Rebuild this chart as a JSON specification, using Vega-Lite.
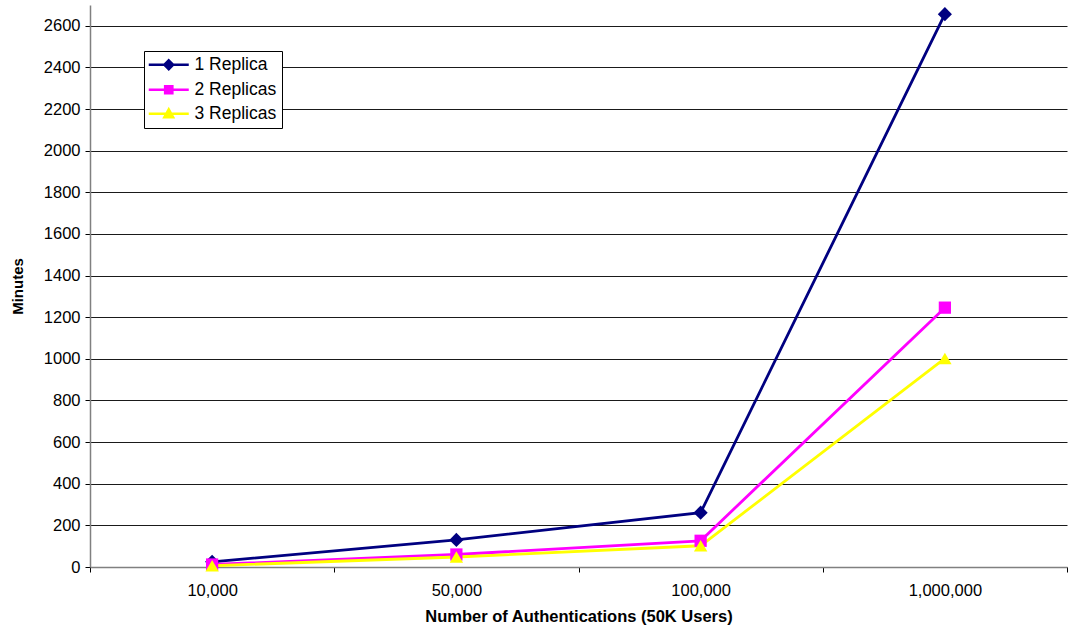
{
  "$schema": "https://vega.github.io/schema/vega-lite/v6.json",
  "width": 977,
  "height": 562,
  "autosize": {"type": "none"},
  "padding": {"left": 90, "top": 5, "right": 13, "bottom": 62},
  "background": "white",
  "config": {
    "font": "Liberation Sans",
    "view": {"stroke": null},
    "axis": {"labelFont": "Liberation Sans", "titleFont": "Liberation Sans", "labelColor": "black", "titleColor": "black"}
  },
  "data": {
    "values": [
      {"auths": "10,000", "series": "1 Replica", "minutes": 25},
      {"auths": "50,000", "series": "1 Replica", "minutes": 130},
      {"auths": "100,000", "series": "1 Replica", "minutes": 261},
      {"auths": "1,000,000", "series": "1 Replica", "minutes": 2656},
      {"auths": "10,000", "series": "2 Replicas", "minutes": 12},
      {"auths": "50,000", "series": "2 Replicas", "minutes": 60},
      {"auths": "100,000", "series": "2 Replicas", "minutes": 126},
      {"auths": "1,000,000", "series": "2 Replicas", "minutes": 1246},
      {"auths": "10,000", "series": "3 Replicas", "minutes": 6},
      {"auths": "50,000", "series": "3 Replicas", "minutes": 48},
      {"auths": "100,000", "series": "3 Replicas", "minutes": 102},
      {"auths": "1,000,000", "series": "3 Replicas", "minutes": 1002}
    ]
  },
  "encoding": {
    "x": {
      "field": "auths",
      "type": "ordinal",
      "sort": null,
      "scale": {"type": "band", "paddingInner": 0, "paddingOuter": 0},
      "axis": {
        "title": "Number of Authentications (50K Users)",
        "titleFontSize": 16.5,
        "titleFontWeight": "bold",
        "titlePadding": 10,
        "labelAngle": 0,
        "labelFontSize": 16.5,
        "labelPadding": 10,
        "tickBand": "extent",
        "tickSize": 5,
        "tickColor": "black",
        "domainColor": "#808080",
        "domainWidth": 1.5,
        "grid": false
      }
    },
    "y": {
      "field": "minutes",
      "type": "quantitative",
      "scale": {"domain": [0, 2700], "nice": false, "zero": true},
      "axis": {
        "title": "Minutes",
        "titleFontSize": 15,
        "titleFontWeight": "bold",
        "titlePadding": 18,
        "labelFontSize": 16.5,
        "labelPadding": 5,
        "format": "d",
        "values": [0, 200, 400, 600, 800, 1000, 1200, 1400, 1600, 1800, 2000, 2200, 2400, 2600],
        "tickSize": 5,
        "tickColor": "black",
        "domainColor": "#808080",
        "domainWidth": 1.5,
        "grid": true,
        "gridColor": "#1a1a1a",
        "gridWidth": 1
      }
    },
    "color": {
      "field": "series",
      "type": "nominal",
      "scale": {
        "domain": ["1 Replica", "2 Replicas", "3 Replicas"],
        "range": ["#000080", "#FF00FF", "#FFFF00"]
      },
      "legend": null
    }
  },
  "resolve": {"legend": {"color": "independent", "shape": "independent"}},
  "layer": [
    {
      "mark": {"type": "line", "strokeWidth": 2.8},
      "encoding": {"detail": {"field": "series"}}
    },
    {
      "transform": [{"filter": "datum.series === '1 Replica'"}],
      "mark": {"type": "point", "shape": "diamond", "filled": true, "opacity": 1, "size": 200}
    },
    {
      "transform": [{"filter": "datum.series === '2 Replicas'"}],
      "mark": {"type": "point", "shape": "square", "filled": true, "opacity": 1, "size": 150}
    },
    {
      "transform": [{"filter": "datum.series === '3 Replicas'"}],
      "mark": {"type": "point", "shape": "triangle-up", "filled": true, "opacity": 1, "size": 180}
    },
    {
      "mark": {"type": "point", "filled": true, "opacity": 0},
      "encoding": {
        "color": {
          "field": "series",
          "type": "nominal",
          "legend": {
            "title": null,
            "orient": "none",
            "legendX": 54,
            "legendY": 46,
            "padding": 5,
            "strokeColor": "black",
            "fillColor": "white",
            "cornerRadius": 0,
            "labelFont": "Liberation Sans",
            "labelFontSize": 17.5,
            "labelColor": "black",
            "symbolSize": 64,
            "symbolStrokeWidth": 2.5,
            "symbolOffset": 11,
            "labelOffset": 17,
            "rowPadding": 5,
            "encode": {
              "symbols": {
                "update": {
                  "stroke": {"scale": "color", "field": "value"},
                  "strokeWidth": {"value": 2.5},
                  "opacity": {"value": 1}
                }
              }
            }
          }
        },
        "shape": {
          "field": "series",
          "type": "nominal",
          "scale": {
            "domain": ["1 Replica", "2 Replicas", "3 Replicas"],
            "range": [
              "M-5,0L5,0M0,-1.1L1.1,0L0,1.1L-1.1,0Z",
              "M-5,0L5,0M-0.9,-0.9L0.9,-0.9L0.9,0.9L-0.9,0.9Z",
              "M-5,0L5,0M0,-1.1L1.1,0.9L-1.1,0.9Z"
            ]
          },
          "legend": {
            "title": null,
            "orient": "none",
            "legendX": 54,
            "legendY": 46
          }
        }
      }
    }
  ]
}
